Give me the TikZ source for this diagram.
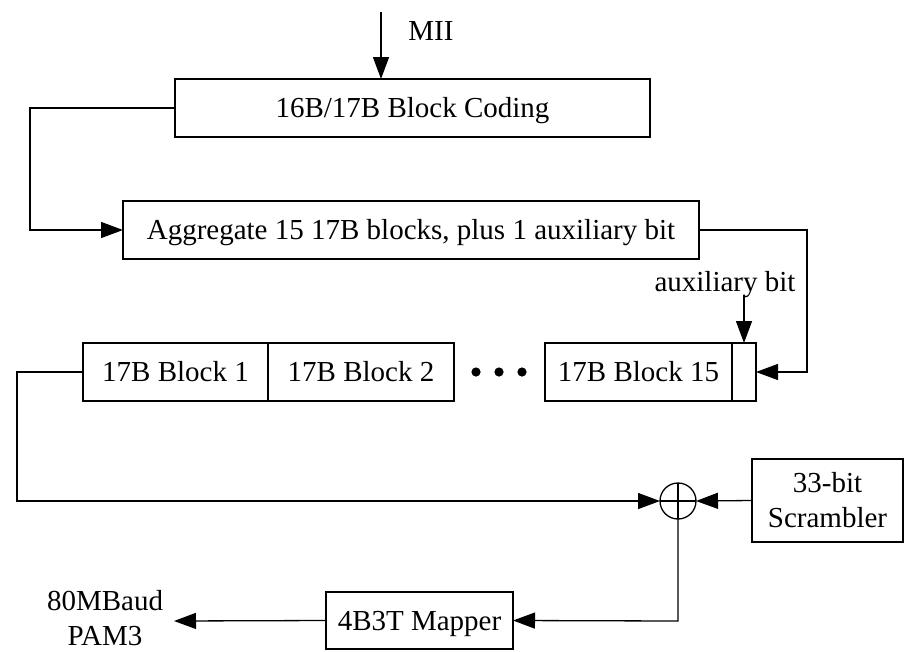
\documentclass[tikz,border=0pt]{standalone}
\usepackage{fontspec}
\setmainfont{Liberation Serif}
\usetikzlibrary{arrows.meta}
\begin{document}
\begin{tikzpicture}[x=1pt,y=-1pt,
  every node/.style={font=\fontsize{29}{35}\selectfont, inner sep=0pt, outer sep=0pt},
  blk/.style={draw, line width=1.3pt, minimum height=58pt, text height=19pt, text depth=0pt},
  blk2/.style={draw, line width=1.3pt, align=center},
  conn/.style={line width=1.3pt},
  arr/.style={conn, -{Triangle[length=22pt,width=16pt]}},
  lbl/.style={align=center}]
\useasboundingbox (0,0) rectangle (904,651);
% boxes
\node[blk, minimum width=475pt] (code) at (412.5,108) {16B/17B Block Coding};
\node[blk, minimum width=576pt] (agg) at (411,230) {Aggregate 15 17B blocks, plus 1 auxiliary bit};
\node[blk, minimum width=185pt] (b1) at (175.5,372) {17B Block 1};
\node[blk, minimum width=186pt] (b2) at (361,372) {17B Block 2};
\node[blk, minimum width=187pt] (b15) at (638.5,372) {17B Block 15};
\node[blk, minimum width=24pt] (aux) at (744,372) {};
\node[blk2, minimum width=151pt, minimum height=83pt] (scr) at (827.5,500.5) {33-bit\\Scrambler};
\node[blk, minimum width=187pt, minimum height=57pt] (map) at (419.5,620.5) {4B3T Mapper};
\node[circle, draw, line width=1.3pt, minimum size=36pt] (xor) at (678,501) {};
\draw[conn] (xor.north) -- (xor.south) (xor.west) -- (xor.east);
% dots
\foreach \xx in {476,499,522}
  \fill (\xx,372) circle (4.6pt);
% labels
\node (mii) at (431,31) {MII};
\node (auxl) at (725,285) {auxiliary bit};
\node[lbl] (out) at (105,618) {80MBaud\\PAM3};
\coordinate (miis) at (381,12);
\coordinate (outp) at (174,621);
% connectors
\draw[arr] (miis) -- (miis |- code.north);
\draw[arr] (code.west) -- (30,108) -- (30,230) -- (agg.west);
\draw[arr] (agg.east) -- (807,230) -- (807,372) -- (aux.east);
\draw[arr] (aux.north |- 0,295) -- (aux.north);
\draw[arr] (b1.west) -- (17,372) -- (17,501) -- (xor.west);
\draw[arr] (scr.west) -- (xor.east);
\draw[arr] (xor.south) -- (678,621) -- (map.east);
\draw[arr] (map.west) -- (outp);
\end{tikzpicture}
\end{document}
